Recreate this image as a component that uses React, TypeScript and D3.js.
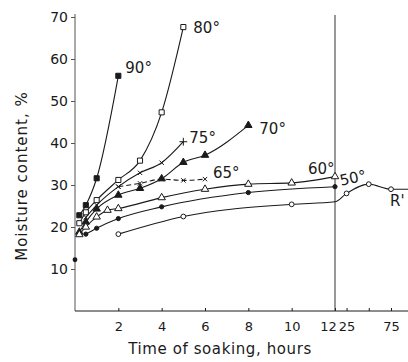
import React, { useEffect, useRef } from 'react';
import * as d3 from 'd3';

// soaking time (hours) and moisture content (%) per soaking temperature
const hours90 = [0.2, 0.5, 1, 2];
const moist90 = [22.8, 25.2, 31.6, 56];
const hours80 = [0.2, 0.5, 1, 2, 3, 4, 5];
const moist80 = [20.9, 23.5, 26.4, 31.2, 35.8, 47.3, 67.6];
const hours75 = [0.5, 1, 2, 3, 4, 5];
const moist75 = [22.3, 25.2, 29.6, 32.9, 35.3, 40.3];
const hours70 = [0.2, 0.5, 1, 2, 3, 4, 5, 6, 8];
const moist70 = [18.8, 21.2, 24.3, 27.6, 29.2, 31.5, 35.4, 37.1, 44.2];
const hours65 = [2, 3, 4, 5, 6];
const moist65 = [29.6, 30.4, 31.4, 31.1, 31.4];
const hours60 = [0.2, 0.5, 1, 1.5, 2, 4, 6, 8, 10, 12];
const moist60 = [18.2, 20, 22.4, 24, 24.4, 27, 29, 30.2, 30.5, 32];
const hours50 = [0.5, 1, 2, 4, 8, 12];
const moist50 = [18.3, 19.7, 22, 24.8, 28.2, 29.6];
const hoursR = [2, 5, 10, 12, 25, 50, 75, 100];
const moistR = [18.3, 22.5, 25.4, 26, 28, 30.2, 29, 29];
const markedR = [true, true, true, false, true, true, true, false];
const initialHours = [0];
const initialMoist = [12.2];

const yTicks = [10, 20, 30, 40, 50, 60, 70];
const xTicks = [2, 4, 6, 8, 10, 12, 25, 75];
const xMinorTicks = [50];

const series = [
  { label: '90°', hours: hours90, values: moist90, shape: 'square', filled: true, dx: 7, dy: -3 },
  { label: '80°', hours: hours80, values: moist80, shape: 'square', filled: false, dx: 10, dy: 6 },
  { label: '75°', hours: hours75, values: moist75, shape: 'times', filled: false, last: 'plus', dx: 6, dy: 1 },
  { label: '70°', hours: hours70, values: moist70, shape: 'triangle', filled: true, dx: 11, dy: 9 },
  { label: '65°', hours: hours65, values: moist65, shape: 'times', filled: false, dashed: true, dx: 8, dy: -1 },
  { label: '60°', hours: hours60, values: moist60, shape: 'triangle', filled: false, dx: -27, dy: -3 },
  { label: '50°', hours: hours50, values: moist50, shape: 'circle', filled: true, dx: 6, dy: -1 },
];

const FONT = '"DejaVu Sans", sans-serif';
const INK = '#1a1a1a';

function symbolFor(shape) {
  if (shape === 'square') return d3.symbol(d3.symbolSquare, 26);
  if (shape === 'triangle') return d3.symbol(d3.symbolTriangle, 24);
  if (shape === 'circle') return d3.symbol(d3.symbolCircle, 14);
  if (shape === 'ocircle') return d3.symbol(d3.symbolCircle, 18);
  if (shape === 'plus') return d3.symbol(d3.symbolPlus, 22);
  return d3.symbol(d3.symbolTimes, 14);
}

function MoistureChart({ width, height }) {
  const svgRef = useRef();

  useEffect(() => {
    const svg = d3.select(svgRef.current);
    svg.selectAll('*').remove();

    // broken time axis: linear to 12 h, compressed beyond
    const x = d3.scaleLinear().domain([0, 12, 75]).range([75, 335, 391]);
    const y = d3.scaleLinear().domain([0, 70]).range([311, 17]);

    const line = d3.line()
      .x(d => x(d[0]))
      .y(d => y(d[1]))
      .curve(d3.curveMonotoneX);

    // axes
    const yAxis = svg.append('g')
      .attr('transform', 'translate(75,0)')
      .call(d3.axisLeft(y).tickValues(yTicks).tickSize(4).tickPadding(3));
    yAxis.select('.domain').attr('d', `M0,${y(0)}V14`).attr('stroke', '#555');
    yAxis.selectAll('.tick line').attr('stroke', '#555');
    yAxis.selectAll('text')
      .attr('font-family', FONT).attr('font-size', 14).attr('fill', INK);

    const xAxis = svg.append('g')
      .attr('transform', `translate(0,${y(0)})`)
      .call(d3.axisBottom(x).tickValues(xTicks.concat(xMinorTicks)).tickSize(-3).tickPadding(11)
        .tickFormat(d => (xMinorTicks.includes(d) ? '' : d)));
    xAxis.select('.domain').attr('d', `M75,0H${width}`).attr('stroke', INK);
    xAxis.selectAll('.tick line').attr('stroke', INK);
    xAxis.selectAll('text')
      .attr('font-family', FONT).attr('font-size', 13).attr('fill', INK)
      .attr('dx', d => (d === 12 ? -7 : 0));

    // vertical break line at 12 h
    svg.append('line')
      .attr('x1', x(12)).attr('x2', x(12))
      .attr('y1', 15).attr('y2', y(0))
      .attr('stroke', '#333').attr('stroke-width', 1);

    // curves
    const allSeries = series.concat([{ label: 'R', hours: hoursR, values: moistR, shape: 'ocircle', filled: false, dx: -1, dy: 17 }]);
    allSeries.forEach(s => {
      const pts = s.hours.map((h, i) => [h, s.values[i]]);
      svg.append('path')
        .attr('d', line(pts))
        .attr('fill', 'none')
        .attr('stroke', INK)
        .attr('stroke-width', 1.1)
        .attr('stroke-dasharray', s.dashed ? '5,3' : null);

      const marks = s.label === 'R' ? pts.filter((p, i) => markedR[i]) : pts;
      svg.append('g').selectAll('path')
        .data(marks)
        .enter()
        .append('path')
        .attr('transform', d => `translate(${x(d[0])},${y(d[1])})`)
        .attr('d', (d, i) => symbolFor(s.last && i === marks.length - 1 ? s.last : s.shape)())
        .attr('fill', s.filled ? INK : (s.shape === 'times' ? 'none' : 'white'))
        .attr('stroke', INK)
        .attr('stroke-width', 1);

      const lastIdx = s.label === 'R' ? 6 : pts.length - 1;
      const lp = pts[lastIdx];
      svg.append('text')
        .attr('x', x(lp[0]) + s.dx)
        .attr('y', y(lp[1]) + s.dy)
        .attr('font-family', FONT)
        .attr('font-size', 15)
        .attr('fill', INK)
        .attr('transform', s.label === '50°' ? `rotate(-12,${x(lp[0]) + s.dx},${y(lp[1]) + s.dy})` : null)
        .text(s.label === 'R' ? "R'" : s.label);
    });

    // initial moisture content
    svg.append('g').selectAll('path')
      .data(initialHours.map((h, i) => [h, initialMoist[i]]))
      .enter()
      .append('path')
      .attr('transform', d => `translate(${x(d[0])},${y(d[1])})`)
      .attr('d', d3.symbol(d3.symbolCircle, 18)())
      .attr('fill', INK);

    // axis titles
    svg.append('text')
      .attr('transform', 'translate(27,176) rotate(-90)')
      .attr('text-anchor', 'middle')
      .attr('font-family', FONT)
      .attr('font-size', 15)
      .attr('letter-spacing', 1)
      .attr('fill', INK)
      .text('Moisture content, %');

    svg.append('text')
      .attr('x', 220)
      .attr('y', 354)
      .attr('text-anchor', 'middle')
      .attr('font-family', FONT)
      .attr('font-size', 15)
      .attr('letter-spacing', 0.6)
      .attr('fill', INK)
      .text('Time of soaking, hours');
  }, [width, height]);

  return (
    <svg
      ref={svgRef}
      width={width}
      height={height}
      style={{ position: 'absolute', left: 0, top: 0, background: 'white' }}
    />
  );
}

export default function App() {
  return <MoistureChart width={408} height={362} />;
}
